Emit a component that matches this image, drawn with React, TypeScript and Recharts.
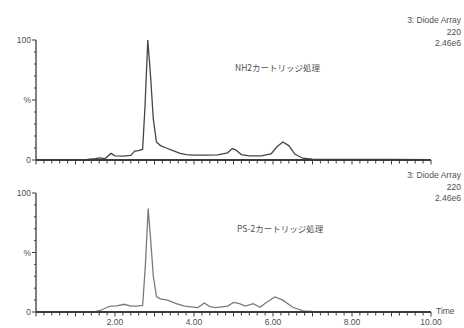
import React from 'react';
import { LineChart, Line, XAxis, YAxis } from 'recharts';

// NH2 cartridge trace (time in min, relative %)
const nh2Time = [0, 0.6, 1.0, 1.3, 1.5, 1.6, 1.75, 1.9, 2.0, 2.2, 2.4, 2.5, 2.6, 2.7, 2.76, 2.83, 2.9, 2.97, 3.05, 3.15, 3.3, 3.45, 3.65, 3.8, 4.0, 4.3, 4.6, 4.85, 4.97, 5.05, 5.2, 5.4, 5.7, 5.95, 6.1, 6.25, 6.4, 6.55, 6.75, 7.0, 8.0, 9.0, 10.0];
const nh2Value = [0, 0, 0.3, 0.6, 1.2, 1.8, 1.2, 5.5, 3.5, 3.2, 3.8, 7.5, 7.8, 9, 45, 100, 70, 34, 15, 12, 10, 8, 5.5, 4.5, 4, 4, 4.2, 6, 9.5, 8.5, 4.5, 3.5, 3.5, 5, 11, 15, 12, 5, 1.5, 0.8, 0.6, 0.4, 0.3];

// PS-2 cartridge trace
const psTime = [0, 1.0, 1.5, 1.65, 1.8, 1.9, 2.05, 2.23, 2.4, 2.55, 2.7, 2.77, 2.84, 2.9, 2.97, 3.05, 3.15, 3.33, 3.55, 3.76, 4.1, 4.26, 4.4, 4.55, 4.85, 5.0, 5.15, 5.3, 5.5, 5.67, 5.83, 6.05, 6.25, 6.5, 6.76, 7.0, 8.0, 9.0, 10.0];
const psValue = [0, 0, 0.3, 1.5, 4, 5, 5.2, 6.5, 5, 5, 5.5, 40, 87, 62, 30, 13, 11, 10, 7, 5, 3.7, 7.6, 4.5, 3.7, 5, 8, 7, 5, 7, 4, 8, 12.7, 10, 4, 1, 0.5, 0.3, 0.2, 0.1];

const xMinorTicks = Array.from({ length: 51 }, (_, i) => Math.round(i * 2) / 10);
const xTickLabels: Record<number, string> = { 2: '2.00', 4: '4.00', 6: '6.00', 8: '8.00', 10: '10.00' };
const yTicks = [0, 10, 20, 30, 40, 50, 60, 70, 80, 90, 100];
const yTickLabels: Record<number, string> = { 0: '0', 50: '%', 100: '100' };

const nh2Data = nh2Time.map((t, i) => ({ t, v: nh2Value[i] }));
const psData = psTime.map((t, i) => ({ t, v: psValue[i] }));

const textColor = '#505050';
const axisColor = '#3c3c3c';
const font = '"Liberation Sans", Arial, sans-serif';

const XTick = ({ x, y, payload, showLabels }: any) => {
  const v = Math.round(payload.value * 10) / 10;
  const major = Number.isInteger(v);
  return (
    <g>
      <line x1={x} x2={x} y1={y} y2={y + (major ? 4.5 : 3.5)} stroke={axisColor} strokeWidth={1} />
      {showLabels && xTickLabels[v] && (
        <text x={x} y={y + 13} textAnchor="middle" fontSize={8.5} fill={textColor} fontFamily={font}>
          {xTickLabels[v]}
        </text>
      )}
    </g>
  );
};

const YTick = ({ x, y, payload }: any) => {
  const label = yTickLabels[payload.value];
  return (
    <g>
      <line x1={x - (label ? 4 : 2)} x2={x} y1={y} y2={y} stroke={axisColor} strokeWidth={1} />
      {label && (
        <text x={x - 5} y={y + 3} textAnchor="end" fontSize={8.5} fill={textColor} fontFamily={font}>
          {label}
        </text>
      )}
    </g>
  );
};

const Info = ({ top }: { top: number }) => (
  <div style={{ position: 'absolute', top, right: 3, textAlign: 'right', fontSize: 8.5, lineHeight: '11.5px', color: textColor, fontFamily: font }}>
    <div>3: Diode Array</div>
    <div>220</div>
    <div>2.46e6</div>
  </div>
);

const TraceLabel = ({ left, top, text }: { left: number; top: number; text: string }) => (
  <div style={{ position: 'absolute', left, top, fontSize: 8.5, color: textColor, fontFamily: '"Noto Sans CJK JP", sans-serif', whiteSpace: 'nowrap' }}>
    {text}
  </div>
);

const Trace = ({ data, height, top, xHeight, showLabels, color }: any) => (
  <LineChart width={464} height={height} data={data} margin={{ top, right: 33, bottom: 0, left: 0 }}>
    <XAxis
      dataKey="t"
      type="number"
      domain={[0, 10]}
      ticks={xMinorTicks}
      interval={0}
      height={xHeight}
      tickSize={0}
      tickMargin={0}
      tickLine={false}
      stroke={axisColor}
      strokeWidth={2}
      tick={<XTick showLabels={showLabels} />}
    />
    <YAxis
      type="number"
      domain={[0, 100]}
      ticks={yTicks}
      interval={0}
      width={36}
      tickSize={0}
      tickMargin={0}
      tickLine={false}
      stroke={axisColor}
      strokeWidth={1.3}
      tick={<YTick />}
    />
    <Line type="linear" dataKey="v" stroke={color} strokeWidth={1.3} dot={false} isAnimationActive={false} />
  </LineChart>
);

export default function App() {
  return (
    <div style={{ position: 'absolute', left: 0, top: 0, width: 464, height: 328, background: '#fff', overflow: 'hidden' }}>
      <div style={{ position: 'absolute', left: 0, top: 0 }}>
        <Trace data={nh2Data} height={170} top={40} xHeight={10} showLabels={false} color="#454545" />
      </div>
      <div style={{ position: 'absolute', left: 0, top: 160 }}>
        <Trace data={psData} height={168} top={33} xHeight={16} showLabels={true} color="#7a7a7a" />
      </div>
      <Info top={15} />
      <Info top={170} />
      <TraceLabel left={235} top={61} text="NH2カートリッジ処理" />
      <TraceLabel left={237} top={222} text="PS-2カートリッジ処理" />
      <div style={{ position: 'absolute', left: 436, top: 306, fontSize: 8.5, color: textColor, fontFamily: font }}>Time</div>
    </div>
  );
}
